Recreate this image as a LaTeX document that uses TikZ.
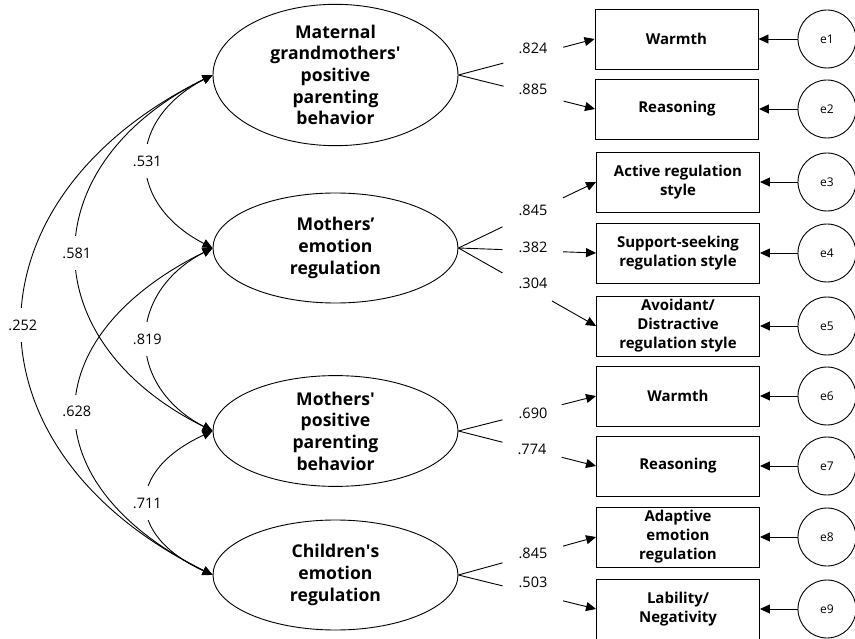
\documentclass[tikz,border=0pt]{standalone}
\usepackage{fontspec}
\setmainfont{Open Sans}
\usetikzlibrary{arrows.meta,calc,shapes.geometric}
\begin{document}
\begin{tikzpicture}[x=1pt,y=-1pt,
  lat/.style={ellipse,draw,line width=0.9pt,minimum width=245pt,minimum height=110pt,inner sep=0pt,align=center,font=\fontsize{17.6}{21.6}\selectfont\bfseries},
  obs/.style={rectangle,draw,line width=0.9pt,minimum width=163pt,minimum height=60pt,inner sep=0pt,align=center,font=\fontsize{15}{19}\selectfont\bfseries},
  err/.style={circle,draw,line width=0.9pt,minimum size=58pt,inner sep=0pt,font=\fontsize{12}{14}\selectfont},
  num/.style={font=\fontsize{14.5}{16}\selectfont,inner sep=1pt},
  covlab/.style={num,fill=white,minimum height=34pt},
  tip/.style={-{Triangle[length=10pt,width=9pt]}},
  dtip/.style={{Triangle[length=10pt,width=9pt]}-{Triangle[length=10pt,width=9pt]}},
  ln/.style={line width=0.9pt},
]
\useasboundingbox (0,0) rectangle (855,639);

% latent variables
\node[lat] (E1) at (335.5,75) {Maternal\\grandmothers\textquotesingle\\positive\\parenting\\behavior};
\node[lat] (E2) at (335.5,248) {Mothers’\\emotion\\regulation};
\node[lat] (E3) at (335.5,431) {Mothers\textquotesingle\\positive\\parenting\\behavior};
\node[lat] (E4) at (335.5,575) {Children\textquotesingle s\\emotion\\regulation};

% observed variables
\node[obs] (b1) at (676.5,39) {Warmth};
\node[obs] (b2) at (677,109) {Reasoning};
\node[obs] (b3) at (678,182) {Active regulation\\style};
\node[obs] (b4) at (678,253) {Support-seeking\\regulation style};
\node[obs] (b5) at (678,326) {Avoidant/\\Distractive\\regulation style};
\node[obs] (b6) at (678,396) {Warmth};
\node[obs] (b7) at (678,466) {Reasoning};
\node[obs] (b8) at (678,537) {Adaptive\\emotion\\regulation};
\node[obs] (b9) at (678,609) {Lability/\\Negativity};

% error terms
\foreach \i/\y in {1/39,2/109,3/182,4/253,5/326,6/396,7/466,8/537,9/609}{
  \node[err] (e\i) at (827,\y) {e\i};
  \draw[ln,tip] (e\i) -- (b\i);
}

% loadings
\draw[ln] (E1.east) -- ($(E1.east)!0.33!(b1.west)$);
\draw[ln,tip] ($(E1.east)!0.77!(b1.west)$) -- (b1.west);
\draw[ln] (E1.east) -- ($(E1.east)!0.33!(b2.west)$);
\draw[ln,tip] ($(E1.east)!0.77!(b2.west)$) -- (b2.west);

\draw[ln] (E2.east) -- ($(E2.east)!0.32!(b3.west)$);
\draw[ln,tip] ($(E2.east)!0.76!(b3.west)$) -- (b3.west);
\draw[ln] (E2.east) -- ($(E2.east)!0.32!(b4.west)$);
\draw[ln,tip] ($(E2.east)!0.76!(b4.west)$) -- (b4.west);
\draw[ln] (E2.east) -- ($(E2.east)!0.32!(b5.west)$);
\draw[ln,tip] ($(E2.east)!0.68!(b5.west)$) -- (b5.west);

\draw[ln] (E3.east) -- ($(E3.east)!0.32!(b6.west)$);
\draw[ln,tip] ($(E3.east)!0.75!(b6.west)$) -- (b6.west);
\draw[ln] (E3.east) -- ($(E3.east)!0.32!(b7.west)$);
\draw[ln,tip] ($(E3.east)!0.75!(b7.west)$) -- (b7.west);

\draw[ln] (E4.east) -- ($(E4.east)!0.32!(b8.west)$);
\draw[ln,tip] ($(E4.east)!0.76!(b8.west)$) -- (b8.west);
\draw[ln] (E4.east) -- ($(E4.east)!0.32!(b9.west)$);
\draw[ln,tip] ($(E4.east)!0.76!(b9.west)$) -- (b9.west);

\node[num] (l1) at (533,48) {.824};
\node[num] (l2) at (533,89) {.885};
\node[num] (l3) at (533,210) {.845};
\node[num] (l4) at (533,247) {.382};
\node[num] (l5) at (533,283) {.304};
\node[num] (l6) at (533,413) {.690};
\node[num] (l7) at (532,449) {.774};
\node[num] (l8) at (533,553) {.845};
\node[num] (l9) at (533,582) {.503};

% covariances
\draw[ln,dtip] (E1.west) .. controls +(-253,125) and +(-253,-125) .. (E4.west) node[covlab,pos=0.5] {.252};
\draw[ln,dtip] (E1.west) .. controls +(-181,90) and +(-181,-90) .. (E3.west) node[covlab,pos=0.5] {.581};
\draw[ln,dtip] (E2.west) .. controls +(-181,90) and +(-181,-90) .. (E4.west) node[covlab,pos=0.5] {.628};
\draw[ln,dtip] (E1.west) .. controls +(-87,45) and +(-87,-45) .. (E2.west) node[covlab,pos=0.5] {.531};
\draw[ln,dtip] (E2.west) .. controls +(-87,45) and +(-87,-45) .. (E3.west) node[covlab,pos=0.5] {.819};
\draw[ln,dtip] (E3.west) .. controls +(-87,40) and +(-87,-40) .. (E4.west) node[covlab,pos=0.5] {.711};
\end{tikzpicture}
\end{document}
